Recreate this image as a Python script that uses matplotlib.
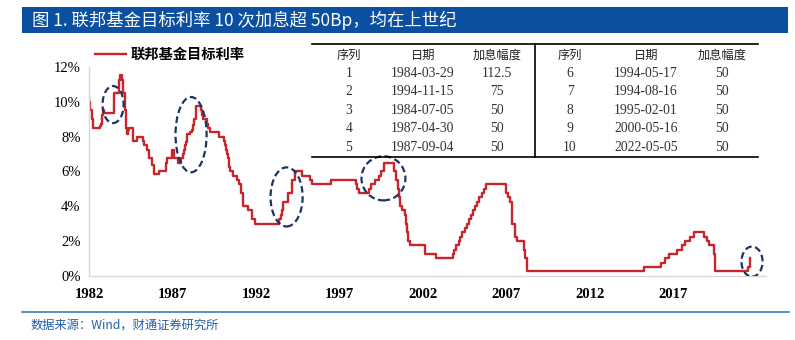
import numpy as np
import pandas as pd
import matplotlib
matplotlib.use('Agg')

import matplotlib.pyplot as plt
from matplotlib.patches import Ellipse, Rectangle
from matplotlib.lines import Line2D

# federal funds target rate (upper bound), step changes
dates = [
    '1982-09-24', '1982-10-01', '1982-10-07', '1982-11-19', '1982-12-14',
    '1983-05-25', '1983-06-24', '1983-07-14', '1983-07-28', '1983-08-18',
    '1984-03-29', '1984-07-05', '1984-07-19', '1984-08-09', '1984-09-20',
    '1984-10-04', '1984-10-11', '1984-11-08', '1984-11-23', '1984-12-06',
    '1984-12-18', '1984-12-24', '1985-01-24', '1985-02-14', '1985-05-20',
    '1985-08-01', '1985-12-18', '1986-01-15', '1986-03-07', '1986-04-21',
    '1986-07-11', '1986-08-21', '1986-12-04', '1987-04-30', '1987-05-20',
    '1987-09-04', '1987-10-22', '1987-11-04', '1988-01-28', '1988-03-29',
    '1988-05-09', '1988-05-25', '1988-06-22', '1988-07-19', '1988-08-09',
    '1988-10-20', '1988-11-22', '1988-12-15', '1988-12-29', '1989-01-05',
    '1989-02-14', '1989-02-24', '1989-06-06', '1989-07-07', '1989-07-27',
    '1989-10-18', '1989-11-06', '1989-12-20', '1990-07-13', '1990-10-29',
    '1990-11-14', '1990-12-07', '1990-12-19', '1991-01-09', '1991-02-01',
    '1991-03-08', '1991-04-30', '1991-08-06', '1991-09-13', '1991-10-31',
    '1991-11-06', '1991-12-06', '1991-12-20', '1992-04-09', '1992-07-02',
    '1992-09-04', '1994-02-04', '1994-03-22', '1994-04-18', '1994-05-17',
    '1994-08-16', '1994-11-15', '1995-02-01', '1995-07-06', '1995-12-19',
    '1996-01-31', '1997-03-25', '1998-09-29', '1998-10-15', '1998-11-17',
    '1999-06-30', '1999-08-24', '1999-11-16', '2000-02-02', '2000-03-21',
    '2000-05-16', '2001-01-03', '2001-01-31', '2001-03-20', '2001-04-18',
    '2001-05-15', '2001-06-27', '2001-08-21', '2001-09-17', '2001-10-02',
    '2001-11-06', '2001-12-11', '2002-11-06', '2003-06-25', '2004-06-30',
    '2004-08-10', '2004-09-21', '2004-11-10', '2004-12-14', '2005-02-02',
    '2005-03-22', '2005-05-03', '2005-06-30', '2005-08-09', '2005-09-20',
    '2005-11-01', '2005-12-13', '2006-01-31', '2006-03-28', '2006-05-10',
    '2006-06-29', '2007-09-18', '2007-10-31', '2007-12-11', '2008-01-22',
    '2008-01-30', '2008-03-18', '2008-04-30', '2008-10-08', '2008-10-29',
    '2008-12-16', '2015-12-16', '2016-12-14', '2017-03-15', '2017-06-14',
    '2017-12-13', '2018-03-21', '2018-06-13', '2018-09-26', '2018-12-19',
    '2019-07-31', '2019-09-18', '2019-10-30', '2020-03-03', '2020-03-15',
    '2022-03-16', '2022-05-04',
]
rates = [
    10.25, 10.0, 9.5, 9.0, 8.5,
    8.625, 8.75, 9.25, 9.5, 9.375,
    10.5, 11.0, 11.25, 11.5625, 11.25,
    11.0, 10.5, 10.0, 9.5, 9.0,
    8.5, 8.125, 8.375, 8.5, 7.75,
    8.0, 7.75, 7.5, 7.25, 6.75,
    6.375, 5.875, 6.0, 6.5, 6.75,
    7.25, 7.0, 6.75, 6.5, 6.75,
    7.0, 7.25, 7.5, 7.6875, 8.125,
    8.25, 8.375, 8.6875, 8.75, 9.0,
    9.3125, 9.75, 9.5, 9.25, 9.0,
    8.75, 8.5, 8.25, 8.0, 7.75,
    7.5, 7.25, 7.0, 6.75, 6.25,
    6.0, 5.75, 5.5, 5.25, 5.0,
    4.75, 4.5, 4.0, 3.75, 3.25,
    3.0, 3.25, 3.5, 3.75, 4.25,
    4.75, 5.5, 6.0, 5.75, 5.5,
    5.25, 5.5, 5.25, 5.0, 4.75,
    5.0, 5.25, 5.5, 5.75, 6.0,
    6.5, 6.0, 5.5, 5.0, 4.5,
    4.0, 3.75, 3.5, 3.0, 2.5,
    2.0, 1.75, 1.25, 1.0, 1.25,
    1.5, 1.75, 2.0, 2.25, 2.5,
    2.75, 3.0, 3.25, 3.5, 3.75,
    4.0, 4.25, 4.5, 4.75, 5.0,
    5.25, 4.75, 4.5, 4.25, 3.5,
    3.0, 2.25, 2.0, 1.5, 1.0,
    0.25, 0.5, 0.75, 1.0, 1.25,
    1.5, 1.75, 2.0, 2.25, 2.5,
    2.25, 2.0, 1.75, 1.25, 0.25,
    0.5, 1.0,
]

tick_years = [1982, 1987, 1992, 1997, 2002, 2007, 2012, 2017]

# table of hikes above 50bp
seq_l = ['1', '2', '3', '4', '5']
date_l = ['1984-03-29', '1994-11-15', '1984-07-05', '1987-04-30', '1987-09-04']
bp_l = ['112.5', '75', '50', '50', '50']
seq_r = ['6', '7', '8', '9', '10']
date_r = ['1994-05-17', '1994-08-16', '1995-02-01', '2000-05-16', '2022-05-05']
bp_r = ['50', '50', '50', '50', '50']
headers = ['序列', '日期', '加息幅度']

title = '图 1. 联邦基金目标利率 10 次加息超 50Bp，均在上世纪'
source = '数据来源：Wind，财通证券研究所'

W, H = 795, 340
cjk = ['Noto Sans CJK SC', 'DejaVu Sans']
serif = 'Liberation Serif'
red = '#C9252C'
navy = '#1C3463'


def fx(px):
    return px / W


def fy(py):
    return 1 - py / H


d = pd.to_datetime(dates)
yrs = np.array(d.year + (d.dayofyear - 1) / 365.25)
x0 = yrs[0]
offset = x0 - 1982

fig = plt.figure(figsize=(W / 100, H / 100), dpi=100)
ax = fig.add_axes([fx(89), fy(275.7), fx(766) - fx(89), fy(67) - fy(275.7)])

ax.plot(yrs, rates, drawstyle='steps-post', color=red, lw=1.7,
        label='联邦基金目标利率')

# dashed circles around the big hikes (year, rate, width, height)
rings = [(1984.17, 9.84, 1.26, 2.13), (1988.84, 8.11, 1.86, 4.33),
         (1994.56, 4.53, 1.92, 3.40), (2000.36, 5.60, 2.63, 2.54),
         (2022.43, 0.81, 1.26, 1.73)]
for cx, cy, w, h in rings:
    ax.add_patch(Ellipse((cx, cy), w, h, fill=False, ls=(0, (3, 1.6)),
                         lw=1.6, edgecolor=navy, zorder=5))

ax.set_xlim(x0, x0 + (766 - 89) / 16.7)
ax.set_ylim(0, 12)
ax.set_xticks([y + offset for y in tick_years])
ax.set_xticklabels([str(y) for y in tick_years], fontfamily=serif,
                   fontweight='bold', fontsize=10.5)
ax.set_yticks(range(0, 13, 2))
ax.set_yticklabels(['%d%%' % v for v in range(0, 13, 2)], fontfamily=serif,
                   fontsize=10.5)
ax.tick_params(axis='x', length=0, pad=9)
ax.tick_params(axis='y', length=0, pad=6)
for s in ['top', 'right']:
    ax.spines[s].set_visible(False)
for s in ['left', 'bottom']:
    ax.spines[s].set_color('#D9D9D9')
    ax.spines[s].set_linewidth(1.0)

ax.legend(loc='center left', bbox_to_anchor=(fx(95), fy(55)),
          bbox_transform=fig.transFigure, frameon=False, borderpad=0,
          borderaxespad=0, handlelength=2.2, handletextpad=0.3,
          prop={'family': cjk, 'size': 10.3, 'weight': 'bold'})

# title bar
fig.add_artist(Rectangle((fx(22), fy(33)), fx(788) - fx(22), fy(7) - fy(33),
                         transform=fig.transFigure, color='#0B4FA0', lw=0))
fig.text(fx(32), fy(20), title, color='white', fontsize=12.5,
         family=cjk, weight='medium', va='center', ha='left')

# bottom rule and source
fig.add_artist(Line2D([fx(22), fx(789)], [fy(312), fy(312)], color='#3A7CC4',
                      lw=1.2))
fig.text(fx(31), fy(325), source, color='#1F5FAD', fontsize=8.8,
         family=cjk, va='center', ha='left')

# table
fig.add_artist(Line2D([fx(312), fx(758)], [fy(44), fy(44)], color='black', lw=1.2))
fig.add_artist(Line2D([fx(312), fx(758)], [fy(157), fy(157)], color='black', lw=1.2))
fig.add_artist(Line2D([fx(535), fx(535)], [fy(44), fy(157)], color='black', lw=1.2))
col_x = [349, 423, 497, 570, 646, 722]
row_y = [73.3, 91.8, 110.3, 128.8, 147.3]
for i, hd in enumerate(headers + headers):
    fig.text(fx(col_x[i]), fy(55), hd, family=cjk, fontsize=8.8,
             ha='center', va='center', color='#222222')
cols = [seq_l, date_l, bp_l, seq_r, date_r, bp_r]
for i, col in enumerate(cols):
    for j, val in enumerate(col):
        fig.text(fx(col_x[i]), fy(row_y[j]), val, family=serif, fontsize=9.8,
                 ha='center', va='center', color='#333333')

fig.savefig('out.png', dpi=100)
